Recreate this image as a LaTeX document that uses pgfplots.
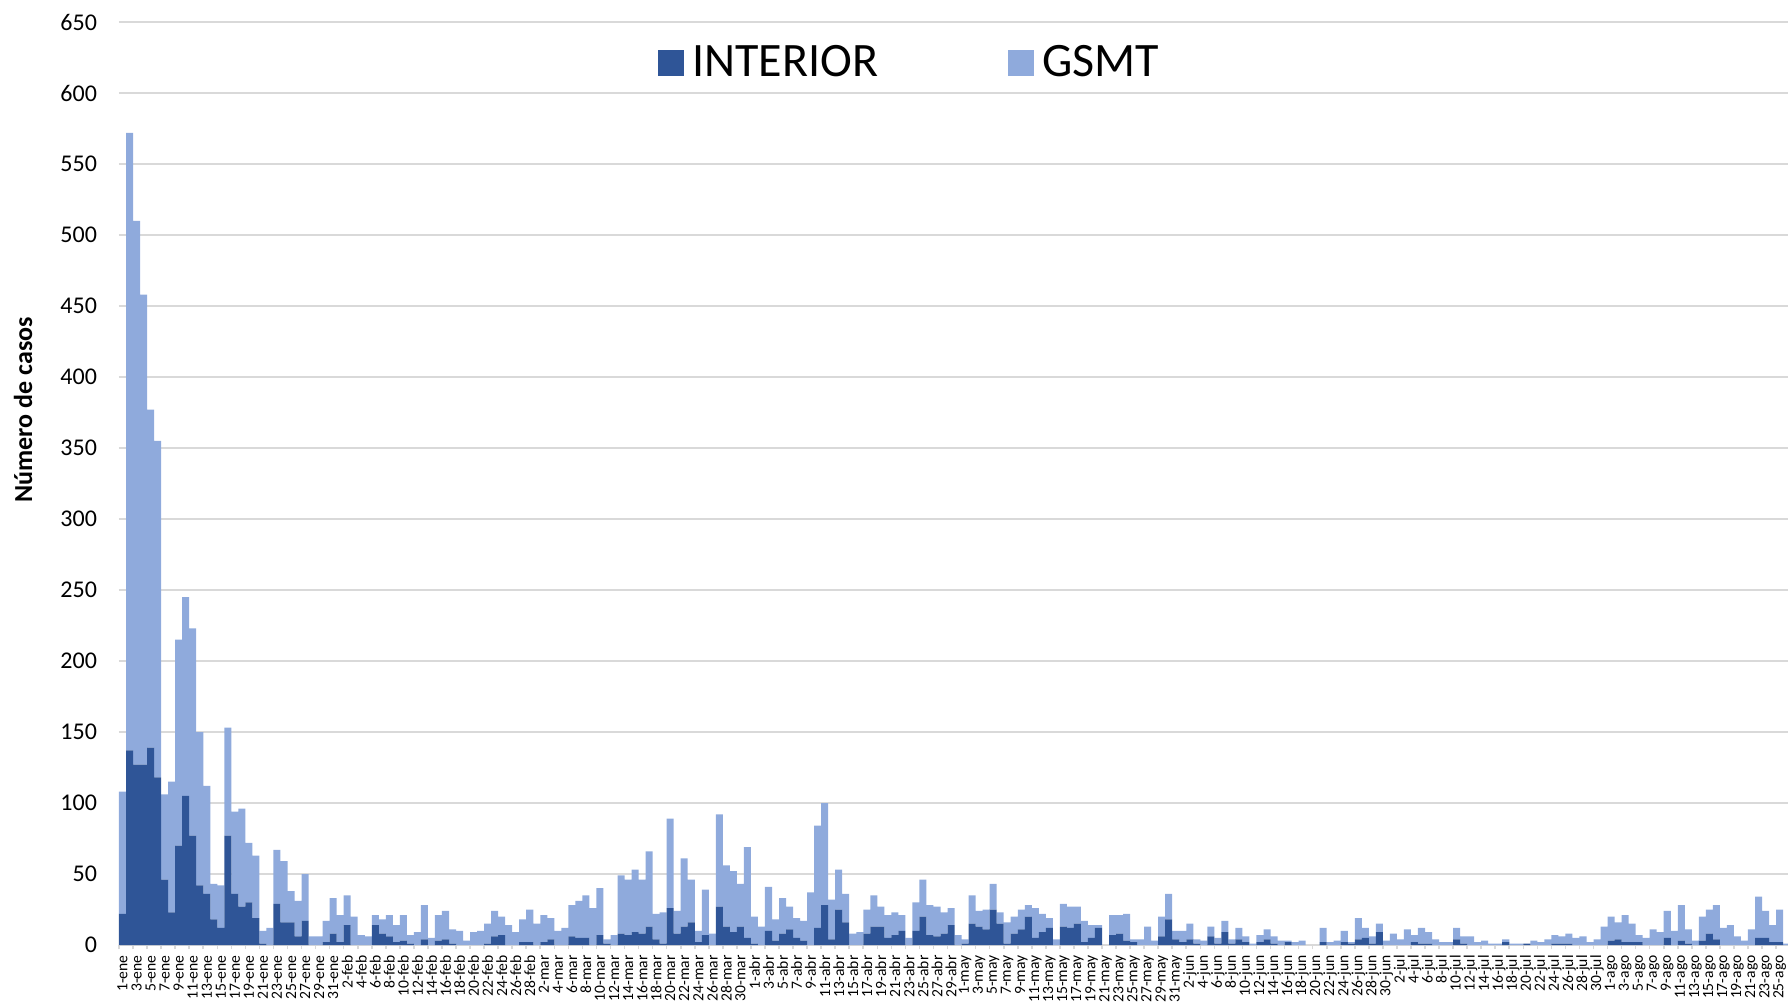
\documentclass[border=0pt]{standalone}
\usepackage{fontspec}
\setmainfont{Carlito}
\usepackage{pgfplots}
\usepackage{pgfplotstable}
\pgfplotsset{compat=1.18}
\definecolor{cdark}{HTML}{2F5597}
\definecolor{clight}{HTML}{8FAADC}
\definecolor{cgrid}{HTML}{D9D9D9}
\pgfplotstableread{
d i g
0 22 86
1 137 435
2 127 383
3 127 331
4 139 238
5 118 237
6 46 60
7 23 92
8 70 145
9 105 140
10 77 146
11 42 108
12 36 76
13 18 25
14 12 30
15 77 76
16 36 58
17 27 69
18 30 42
19 19 44
20 1 9
21 0 12
22 29 38
23 16 43
24 16 22
25 6 25
26 17 33
27 0 6
28 0 6
29 2 15
30 8 25
31 2 19
32 14 21
33 0 20
34 0 7
35 0 6
36 14 7
37 8 10
38 6 15
39 2 12
40 3 18
41 1 6
42 0 9
43 4 24
44 0 5
45 3 18
46 4 20
47 1 10
48 0 10
49 0 3
50 0 9
51 0 10
52 1 14
53 6 18
54 7 13
55 0 14
56 0 9
57 2 16
58 2 23
59 0 15
60 2 19
61 4 15
62 0 10
63 0 12
64 6 22
65 5 26
66 5 30
67 0 26
68 7 33
69 1 3
70 0 7
71 8 41
72 7 39
73 9 44
74 8 38
75 13 53
76 4 18
77 1 22
78 26 63
79 8 16
80 13 48
81 16 30
82 2 8
83 7 32
84 0 8
85 27 65
86 13 43
87 9 43
88 13 30
89 5 64
90 1 19
91 0 13
92 10 31
93 3 15
94 8 25
95 11 16
96 5 14
97 3 14
98 0 37
99 12 72
100 28 72
101 4 28
102 25 28
103 16 20
104 0 8
105 0 9
106 8 17
107 13 22
108 13 14
109 5 16
110 7 16
111 10 11
112 0 5
113 10 20
114 20 26
115 7 21
116 6 21
117 8 15
118 14 12
119 0 7
120 1 3
121 15 20
122 13 11
123 11 14
124 25 18
125 15 8
126 1 15
127 8 12
128 11 14
129 20 8
130 5 21
131 9 13
132 12 7
133 0 4
134 13 16
135 12 15
136 15 12
137 2 15
138 5 9
139 12 2
140 0 0
141 7 14
142 8 13
143 3 19
144 2 2
145 0 4
146 0 13
147 0 3
148 6 14
149 18 18
150 4 6
151 2 8
152 4 11
153 1 3
154 0 3
155 6 7
156 1 4
157 9 8
158 1 3
159 4 8
160 2 4
161 0 1
162 2 5
163 4 7
164 1 5
165 0 3
166 2 1
167 0 2
168 0 3
169 0 0
170 0 0
171 2 10
172 0 2
173 0 3
174 2 8
175 1 1
176 4 15
177 5 7
178 1 5
179 9 6
180 0 3
181 0 8
182 0 4
183 0 11
184 2 5
185 1 11
186 1 8
187 0 4
188 0 2
189 0 2
190 4 8
191 1 5
192 0 6
193 0 2
194 0 3
195 0 1
196 0 1
197 2 2
198 0 1
199 0 1
200 1 0
201 0 3
202 0 2
203 0 4
204 1 6
205 1 5
206 1 7
207 0 5
208 0 6
209 0 2
210 0 4
211 0 13
212 3 17
213 4 12
214 2 19
215 2 13
216 2 5
217 0 5
218 0 11
219 0 9
220 5 19
221 0 10
222 3 25
223 1 10
224 0 3
225 3 17
226 8 17
227 4 24
228 0 12
229 0 14
230 0 6
231 0 3
232 0 11
233 5 29
234 5 19
235 2 12
236 2 23
237 0 1
}\datatable
\begin{document}
\begin{tikzpicture}
\useasboundingbox (-59.5pt,-29pt) rectangle (834.5pt,472.5pt);
\begin{axis}[
  at={(0,0)}, anchor=south west,
  scale only axis,
  width=834.5pt, height=461.5pt,
  ybar stacked, bar width=1,
  xmin=-0.5, xmax=237.2,
  ymin=0, ymax=650,
  enlargelimits=false,
  ytick={0,50,...,650},
  xtick={0,2,...,236},
  minor xtick={-0.5,1.5,...,237},
  major tick length=0pt,
  minor tick length=2.2pt,
  tick align=outside,
  tick style={color=cgrid, line width=0.8pt},
  ymajorgrids,
  grid style={color=cgrid, line width=0.9pt},
  axis lines*=left,
  y axis line style={draw=none},
  x axis line style={draw=cgrid, line width=0.9pt},
  /pgf/number format/assume math mode=true,
  yticklabel style={font=\fontsize{12}{14}\selectfont, anchor=east, xshift=-7.5pt},
  xticklabel style={font=\fontsize{7.8}{8}\selectfont, rotate=90, anchor=east, inner sep=0pt},
  xticklabel shift=5pt,
  xticklabels={1-ene,3-ene,5-ene,7-ene,9-ene,11-ene,13-ene,15-ene,17-ene,19-ene,21-ene,23-ene,25-ene,27-ene,29-ene,31-ene,
    2-feb,4-feb,6-feb,8-feb,10-feb,12-feb,14-feb,16-feb,18-feb,20-feb,22-feb,24-feb,26-feb,28-feb,
    2-mar,4-mar,6-mar,8-mar,10-mar,12-mar,14-mar,16-mar,18-mar,20-mar,22-mar,24-mar,26-mar,28-mar,30-mar,
    1-abr,3-abr,5-abr,7-abr,9-abr,11-abr,13-abr,15-abr,17-abr,19-abr,21-abr,23-abr,25-abr,27-abr,29-abr,
    1-may,3-may,5-may,7-may,9-may,11-may,13-may,15-may,17-may,19-may,21-may,23-may,25-may,27-may,29-may,31-may,
    2-jun,4-jun,6-jun,8-jun,10-jun,12-jun,14-jun,16-jun,18-jun,20-jun,22-jun,24-jun,26-jun,28-jun,30-jun,
    2-jul,4-jul,6-jul,8-jul,10-jul,12-jul,14-jul,16-jul,18-jul,20-jul,22-jul,24-jul,26-jul,28-jul,30-jul,
    1-ago,3-ago,5-ago,7-ago,9-ago,11-ago,13-ago,15-ago,17-ago,19-ago,21-ago,23-ago,25-ago},
  ylabel={Número de casos},
  ylabel style={at={(axis description cs:-0.0575,0.58)}, anchor=center, font=\fontsize{13}{15}\selectfont\bfseries},
  legend columns=2,
  legend style={at={(0.4755,0.956)}, anchor=center, draw=none, fill=none,
    font=\fontsize{24}{28}\selectfont,
    nodes={inner xsep=4pt, inner ysep=0pt},
    /tikz/every even column/.append style={column sep=61pt}},
  legend image code/.code={\fill[#1] (-2.3pt,-6.5pt) rectangle (10.7pt,6.5pt);},
]
\addplot[fill=cdark, draw=none] table[x=d, y=i] {\datatable};
\addlegendentry{INTERIOR}
\addplot[fill=clight, draw=none] table[x=d, y=g] {\datatable};
\addlegendentry{GSMT}
\end{axis}
\end{tikzpicture}
\end{document}
